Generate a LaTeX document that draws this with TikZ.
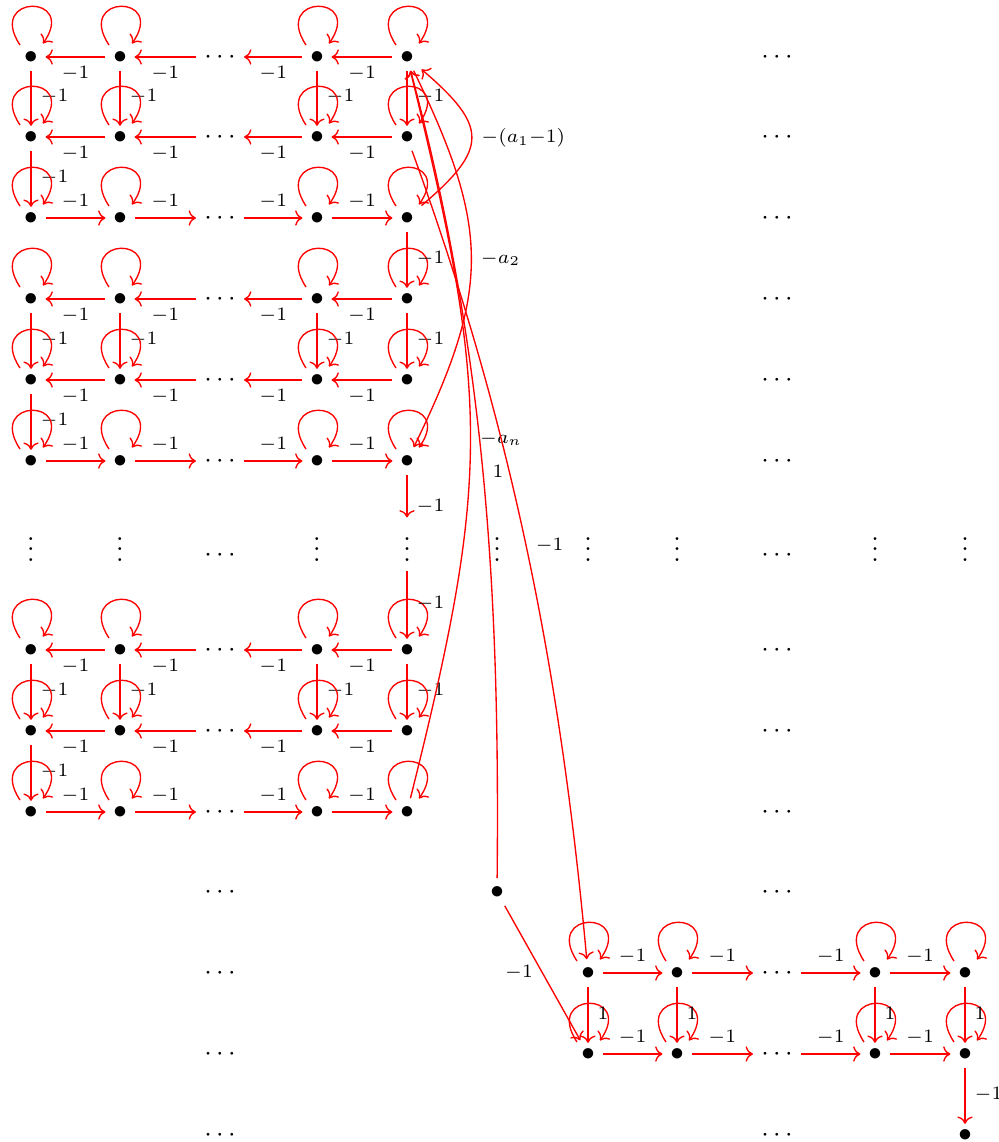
\documentclass[tikz,border=0pt]{standalone}
\usetikzlibrary{arrows.meta}
\newlength\px
\setlength\px{0.37037pt}
\tikzset{
  lnk/.style={draw=red, line width=0.5pt, -{Computer Modern Rightarrow}},
  vlnk/.style={lnk, shorten >=-0.95pt},
  bul/.style={inner sep=0pt, text height=7.4pt, text depth=2.4pt, minimum width=28\px},
  hdots/.style={inner sep=0pt, text height=7.4pt, text depth=2.4pt, minimum width=47\px},
  vdts/.style={inner sep=0pt, anchor=base, text height=16.2pt, text depth=3.05pt},
}
\newcommand\lb[1]{$\scriptstyle #1$}
% a small loop above a vertex
\newcommand\selfloop[1]{\draw[lnk] ([shift={(-11,-12)}]#1.center) .. controls +(-34,-51) and +(35,-50) .. ([shift={(12,-13.5)}]#1.center);}
\begin{document}
\begin{tikzpicture}[x=\px, y=-\px]
\useasboundingbox (0,0) rectangle (999,1142);
\def\colx{{0,31,120,220,317,407,497,588,677,777,875,965}}
\def\rowy{{0,57,137,218,299,380,461,555,650,731,812,892,973,1054,1135}}

% vertices of the left blocks
\foreach \r in {1,2,3,4,5,6,8,9,10}{
  \foreach \c in {1,2,4,5}{
    \pgfmathsetmacro\xx{\colx[\c]}
    \pgfmathsetmacro\yy{\rowy[\r]}
    \node[bul] (n-\r-\c) at (\xx,\yy) {$\bullet$};
  }
}
% vertices of the lower right block
\foreach \r in {12,13}{
  \foreach \c in {7,8,10,11}{
    \pgfmathsetmacro\xx{\colx[\c]}
    \pgfmathsetmacro\yy{\rowy[\r]}
    \node[bul] (n-\r-\c) at (\xx,\yy) {$\bullet$};
  }
}
\node[bul] (n-11-6) at (497,892) {$\bullet$};
\node[bul] (n-14-11) at (965,1135) {$\bullet$};

% horizontal dots
\foreach \r in {1,...,14}{
  \pgfmathsetmacro\yy{\rowy[\r]}
  \node[hdots] (d-\r-9) at (777,\yy) {$\cdots$};
  \node[hdots] (d-\r-3) at (220,\yy) {$\cdots$};
}
% vertical dots
\foreach \c in {1,2,4,5,6,7,8,10,11}{
  \pgfmathsetmacro\xx{\colx[\c]}
  \node[vdts] (v-7-\c) at (\xx,561.75) {$\vdots$};
}

% arrows inside the left blocks
\foreach \a/\b/\c in {1/2/3, 4/5/6, 8/9/10}{
  \foreach \r in {\a,\b}{
    \draw[lnk] (n-\r-2) -- node[below]{\lb{-1}} (n-\r-1);
    \draw[lnk] (d-\r-3) -- node[below]{\lb{-1}} (n-\r-2);
    \draw[lnk] (n-\r-4) -- node[below]{\lb{-1}} (d-\r-3);
    \draw[lnk] (n-\r-5) -- node[below]{\lb{-1}} (n-\r-4);
  }
  \draw[lnk] (n-\c-1) -- node[above]{\lb{-1}} (n-\c-2);
  \draw[lnk] (n-\c-2) -- node[above]{\lb{-1}} (d-\c-3);
  \draw[lnk] (d-\c-3) -- node[above]{\lb{-1}} (n-\c-4);
  \draw[lnk] (n-\c-4) -- node[above]{\lb{-1}} (n-\c-5);
  \foreach \k in {1,2,4,5}{
    \draw[vlnk] (n-\a-\k) -- node[right]{\lb{-1}} (n-\b-\k);
  }
  \draw[vlnk] (n-\b-1) -- node[right]{\lb{-1}} (n-\c-1);
  \foreach \r in {\a,\b,\c}{
    \foreach \k in {1,2,4,5}{\selfloop{n-\r-\k}}
  }
}
% links between the left blocks
\draw[vlnk] (n-3-5) -- node[right]{\lb{-1}} (n-4-5);
\draw[lnk] (n-6-5) -- node[pos=0.75,right]{\lb{-1}} (v-7-5);
\draw[vlnk] (v-7-5) -- node[right]{\lb{-1}} (n-8-5);

% lower right block
\foreach \r in {12,13}{
  \draw[lnk] (n-\r-7) -- node[above]{\lb{-1}} (n-\r-8);
  \draw[lnk] (n-\r-8) -- node[above]{\lb{-1}} (d-\r-9);
  \draw[lnk] (d-\r-9) -- node[above]{\lb{-1}} (n-\r-10);
  \draw[lnk] (n-\r-10) -- node[above]{\lb{-1}} (n-\r-11);
  \foreach \k in {7,8,10,11}{\selfloop{n-\r-\k}}
}
\foreach \k in {7,8,10,11}{
  \draw[vlnk] (n-12-\k) -- node[right]{\lb{1}} (n-13-\k);
}
\draw[vlnk] (n-13-11) -- node[right]{\lb{-1}} (n-14-11);

% long links
\draw[lnk] (n-3-5) .. controls (488,149) and (489,127) .. (n-1-5)
  node[midway,right]{\lb{-(a_1-1)}};
\draw[lnk] (n-1-5) .. controls (490,228) and (491,289) .. (n-6-5)
  node[midway,right]{\lb{-a_2}};
\draw[lnk] (n-10-5) .. controls (490,480) and (491,400) .. (n-1-5)
  node[midway,right]{\lb{-a_n}};
\draw[lnk] (n-11-6) .. controls (500,590) and (485,350) .. (n-1-5)
  node[midway,right]{\lb{1}};
\draw[lnk] (n-2-5) .. controls (510,420) and (560,665) .. (n-12-7)
  node[midway,right]{\lb{-1}};
\draw[lnk] (n-11-6) -- node[left]{\lb{-1}} (n-13-7);
\end{tikzpicture}
\end{document}
